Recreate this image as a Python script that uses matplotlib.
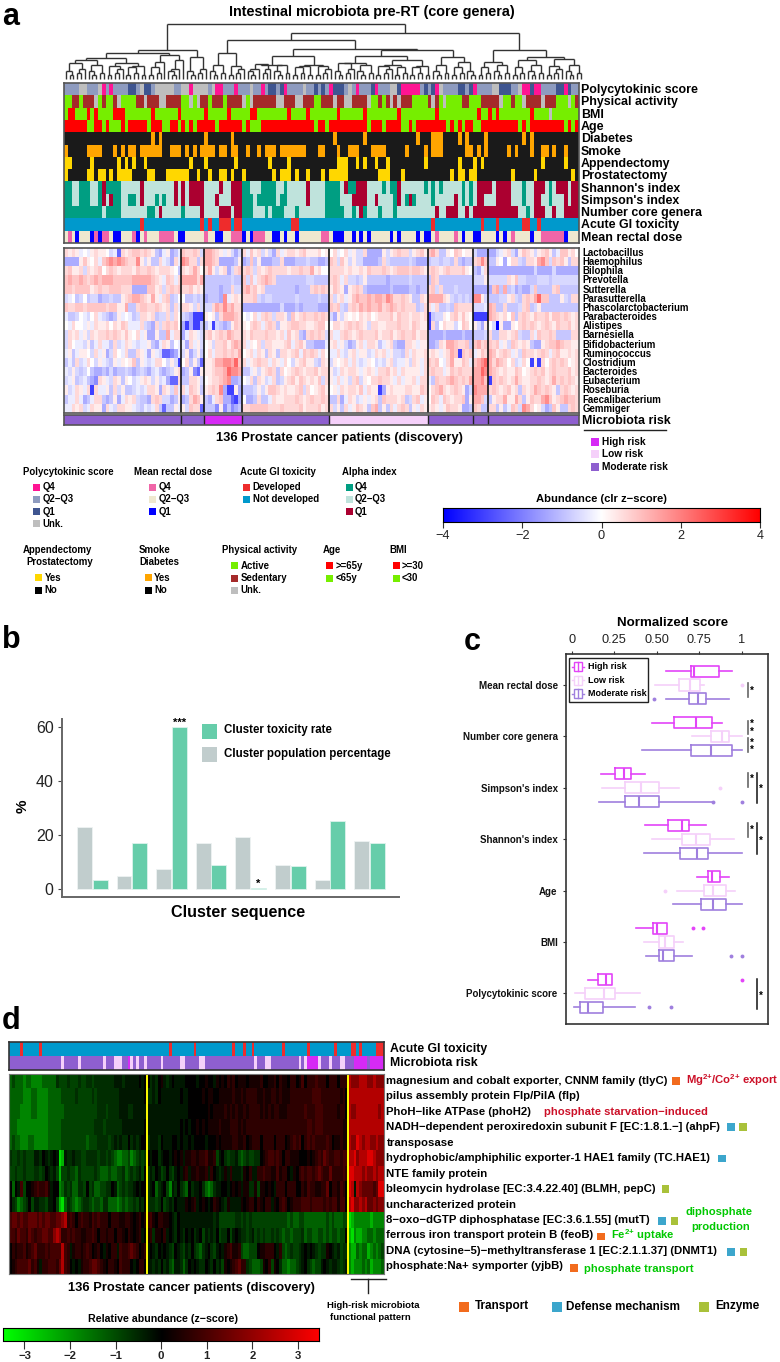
import numpy as np
import matplotlib
matplotlib.use("Agg")
import matplotlib.pyplot as plt
from matplotlib.colors import LinearSegmentedColormap, to_rgb
from matplotlib.collections import LineCollection
from matplotlib.patches import Rectangle

plt.rcParams['font.family'] = ['Liberation Sans', 'DejaVu Sans']
plt.rcParams['mathtext.fontset'] = 'custom'
plt.rcParams['mathtext.bf'] = 'Liberation Sans:bold'
plt.rcParams['mathtext.rm'] = 'Liberation Sans:bold'

W, H = 780, 1362

# ---- panel a, annotation rows (one character per patient)
annot_names = ["Polycytokinic score", "Physical activity", "BMI", "Age", "Diabetes", "Smoke",
               "Appendectomy", "Prostatectomy", "Shannon's index", "Simpson's index",
               "Number core genera", "Acute GI toxicity", "Mean rectal dose"]
poly = "mmmmuummmu pmpmmmmqqm uqqmuuuuum muupuuuumu ppmmmpmmmu mmpmqqmqpm mmmummqmqm pqqqmumpmm mqpmmmuuqp ppppmqmqpu mmmmqqmqpm mmmuuqqqmm uppqppmmmm qqpqmm"
activity = "ggbbgbbbug bggbuggggb bubbbuubbb bggugubbgb bbgbbbbugu bbbbbbuubb buubbbggbb bubbuubbbb uggbgbubub bbggggbubg uggggbbggg bbbbbuggbg gubbbbubbb gggugb"
bmi = "grrgggrgrg gggrrrgggg gggrgggggg rggggggrgg gggrgggggr rggggggggr ggggrggggg ggrggggggr ggggggggrg ggggggggrg gggggggggr ggrgrggggg gggrggggug gggggg"
age = "rrrrrrggrr grgggrgrrr rrgrrrggrr grgrgrrrrr grrrrrrgrg ggrrrrrrrr rrrrrrgrrg rrrrrrrrrr grrrgrrrrg grgrrrrrrr rgrgrgrrgg rrrrrrrrrr grgrrrrrrr rrgrgr"
diabetes_yes = [23, 25, 37, 44, 71, 79, 93, 97, 98, 99, 104, 106, 111, 121, 123]
smoke_yes = [0, 6, 7, 8, 9, 13, 15, 17, 18, 20, 21, 22, 23, 24, 25, 28, 29, 30, 32, 34, 36, 37, 38, 39, 41, 42, 44, 45,
             48, 51, 53, 54, 55, 57, 58, 59, 60, 61, 62, 63, 67, 68, 72, 75, 76, 77, 81, 82, 83, 84, 90, 95, 97, 98, 99,
             106, 107, 109, 111, 117, 119, 123, 126, 127, 129, 132]
append_yes = [0, 1, 7, 14, 16, 18, 21, 33, 37, 45, 54, 59, 72, 73, 74, 77, 79, 82, 85, 95, 104, 108, 110, 126, 132]
prost_yes = [0, 6, 7, 9, 10, 12, 14, 15, 16, 17, 22, 23, 27, 28, 29, 30, 31, 32, 35, 38, 41, 42, 44, 47, 55, 57, 58, 59, 61,
             64, 68, 70, 71, 72, 73, 74, 83, 84, 85, 89, 102, 104, 105, 107, 108, 118, 124, 134]
shannon = "aallaaalla daaaalllll dlllllllld ldlddddlll ldlldddaal llaaaallal lllldlllla aaaldaaddd llllalaadl lllllalala lllllalald dddlddddll lalldddlal dddldd"
simpson = "aallaaalla dldaallaal dlllalalld ldlddddlll dllldddaaa laaaaalaal lllldlllla aaallldddd lldlllladl adallllall llldlalald dlllddddll lallddllal lldldd"
ncore = "aaaaaaaaaa laaaalllll llaaldllll lalllldlll ldddlddaaa lllalaaall lallllllla aaaallalda lllalllall lllllllldl ldddlldldd dddddddddd llaldddlld lldddd"
toxic_yes = [20, 36, 38, 41, 42, 43, 45, 46, 60, 61, 97, 110, 114, 121, 122, 125]
dose = "eoeBeeeBoB ooeBBeeeoB eoeeeooooe BBeeeeeoee BBeeoooBeB oooeeBBeBe eBeeeeeeoo eBBBeeBeBe BeeeeeBeBe eeeBeBBeoe eeeoeBeeBB eeeeBeBeoe eeeBeeoooo ooBeee"

# ---- panel a, abundance (one character per patient, split by cluster)
genera = ["Lactobacillus", "Haemophilus", "Bilophila", "Prevotella", "Sutterella", "Parasutterella",
          "Phascolarctobacterium", "Parabacteroides", "Alistipes", "Barnesiella", "Bifidobacterium",
          "Ruminococcus", "Clostridium", "Bacteroides", "Eubacterium", "Roseburia", "Faecalibacterium", "Gemmiger"]
cluster_sizes = [31, 6, 10, 23, 26, 12, 4, 24]
cluster_risk = ["M", "M", "H", "M", "L", "M", "M", "M"]
abund = [
    "babaA.Aabaa.BAFbabccbcbaCDAaDCA cbbcbB ddcbaAaBDB bAcabBaBDbAabbabcaaab.a .bA.bAaBBbDDDDaBabcbbBabca cdbCCa.cb.aa BDDD DDBAabBDacbaBabcaCAccab",
    "DDDDaca.bAcdededcbbeaBaCCbABDbA edbbCb ddcbDDDDCa DCcCaDDDCCbDDDCCCBCCDDC cbBcaBaBBDDDDCbBCCCCCBCDDD CBBCBBCbCDCC bcec CCa.D.bbBCbbadecBcbcaCbb",
    "bcaabBbabc.bcbabbbacbbcbabbba.C babdb. bdaBabDBbc bcbBbabcbbbbabbcbbdab.. bbbbabaabacbbbcbabcccbccba bcbabcbbbca. CDAb DDDDDDDDDDDDBDDDDBDDDDDD",
    "cdccdcbcdcdddcccccdddddcbaAcbAb ddddbd CCCCCCCBCC cBcAbcdcbCCCCCCCCBBCCCC bcbAbBBCBaCCCCCDCCCCCBCCCC CcbCCCCCCCCC BBBa BBBBBbacBBCCCBBBCBBBBBBB",
    "ccbccccabcbbcccbbbDDDDccabBbcbc bbcaba CCCCDCCbBB cdbcabCCCCCCCCDCCCbcbcb acbaDabcbCDDDDDDCDDDDCCDCC bcBbCCCBCCCC DDDD DcdCdCBDCDDBcCCCCbcCCCCC",
    "BA.CB.CBBDCCBCCabcddcbadaAbcCB. .CCBCB DCCCDeAaba bbbcBCBBCCCCCCBCCCCCBCC bBabAacdccdcddcedbbcbaCCba ddddbaBCBCBC eeaB CCCBBabBCbcbdfccCCCaBCbb",
    "cbbccbcccccbccaadCCbccbbcbabCbA bbaBbB BBbdcecdbb DDDDDDDDDDBDDDCDCCCCDDD cbcBCbcbdcdccdbcdcbcbbbCBb bAbCCBCcbbbb BBBA dcCCbCCCBbcCBaCCCCCCCCCC",
    "ACCB.AB.bABCDCaA.ACBbbabCBBbBb. BCDGGG a.aCbdddcb .A.bAbcbBbbaCcabcbbcbcb BDaBa.a.bab.abbbcacbbabbab GCBBa.bcaca. GGGG dcbab.cCbcbacbbcaccbcbab",
    ".Ab..AaAbaab.bacbAAAbBCDbBbcbc. DGDGGC CAGBCDCacb a.bcbAbcbCaabccbbaabcc. .bbabcbcbaBbbaabbbcbbacbaa GbC.baaB.cb. aBDa .BHaDDa.bcbcbabcbacbbcab",
    "BbabAaBbabbcbcbaca.bAaDDaCCdAbb DAbaAB bcabcbdcbb bacbbbcbbabAcabCDbcbcbB bAAbcbabcbbbcabbcabcbbcabb DDDDCDDDDCDD CCCB bCCbbabcBCCbAcbbcbCCCCbb",
    "Bb.AABaCAbAACbBAbaABAAaCDAbaC.A ADbAaB .aBbbcacdc bAa.bBbbaaabcAbcaCCDDDA abAaBDCabAbbaCAabCDDbbaAaa DDCbaddcbbcC cdbc cbcAaBcbabaCDDabccdcbbaa",
    "AaCAaa.BbAaDBb.AbCCbaADaABFFEDAb BaDBaC .bAbbcbcbd .abAbaCbaCbbabcAcbcbAb AAbABabAaaBAbabAaBBCbAbaab abaAabdcGcbc Aacb dcabcbAaBcbbabcbAbcaabab",
    "CACbBAb.BaABCaAa.acCaABAbb.BaBG .bCaCF aabddeedfc bAabcbbAbaAb.BabcaaBCba Ba.abAbABAa.BABabBAAaBbaAb cbc.AbdaacbA cdef dbdcb.bBAb.GaGb.bcbcb.ab",
    "ABaBCB.CDDCDBDCCBCDCBCDBACDCBab DCaEFa aabccdfeed CCAaBabcbCb.abcbabbcabb aBAbabbaAabaAbbcabAbaaaaAb bcbbAacbcbbb ddfe dcbabaacb.abcbcabcbbbcab",
    "BAaCBACDEbaABbaCa.BAabaBaBADFFb CCbbaB .abbcdeDDC .AbCbaBAbCBabcacbabacBb aAbAaBbcBa.bbcbbaAbAaabAbb ACcbbcdcbcbd ddec Gcbcbabdbaabbcbabdbcbcba",
    "aBAbaAbGbAAaCbBaCCBABAbbaDbaBcA bAcbaC abcbeDGGaD CCCBaBaccbabaabcBb.abca .aAbabbacAbaaGDabaaabbaacb .bcdbabcbaDB eddd bcbabcabCbabdcbcbaCbcbab",
    "CAAbADCAbbCDCaDAbabBCCDbcbBBDCa DCbdca CDAbcDDFGD .DDCbCCAbaabbbcbabcbbcb CCbDAbaBAaAabCcbbbabCBbcAa .cbAcbabbcDa ddcB CabbdaadbCacbbdecabcdccb",
    "AAbabBAbaaDbABbbaaABCABAbCFCCaA aBcbbF CCCEaECEDC bbcccccbbbcbbbbcabbbcab bBaCbAacbaCcdCaCbAbcbCaAba abaAacbbaDDC cbCC bbCaCAcbBedb.aBDCcaCCbcb",
]

# ---- panel b
cluster_pop = [23.0, 4.7, 7.5, 17.0, 19.2, 9.0, 3.2, 17.8]
cluster_tox = [3.5, 17.0, 60.0, 9.0, 0.5, 8.5, 25.0, 17.0]

# ---- panel c, (low whisker, q1, median, q3, high whisker)
score_names = ["Mean rectal dose", "Number core genera", "Simpson's index", "Shannon's index", "Age", "BMI", "Polycytokinic score"]
box_high = [(.554, .70, .72, .864, .941), (.47, .603, .733, .823, .882), (.173, .251, .306, .348, .428),
            (.432, .568, .65, .688, .792), (.739, .804, .827, .872, .927), (.377, .475, .499, .558, .562),
            (.096, .155, .198, .234, .234)]
box_low = [(.489, .629, .694, .752, .78), (.705, .821, .882, .926, 1.0), (.179, .314, .409, .515, .633),
           (.47, .646, .731, .815, .955), (.619, .776, .833, .906, .963), (.424, .511, .548, .603, .656),
           (.018, .075, .191, .251, .403)]
box_mod = [(.554, .69, .743, .788, .927), (.413, .703, .821, .941, 1.0), (.161, .314, .395, .515, .833),
           (.424, .637, .735, .80, 1.0), (.595, .762, .833, .906, 1.0), (.434, .511, .538, .599, .709),
           (.014, .049, .092, .185, .371)]
out_high = [[], [], [], [], [], [.711, .77], [1.0]]
out_low = [[1.0], [], [.872], [], [.546], [], []]
out_mod = [[.485], [], [.833, 1.0], [], [], [.939, 1.0], [.456, .583]]

# ---- panel d
func_names = ["magnesium and cobalt exporter, CNNM family (tlyC)", "pilus assembly protein Flp/PilA (flp)",
              "PhoH\u2212like ATPase (phoH2)", "NADH\u2212dependent peroxiredoxin subunit F [EC:1.8.1.\u2212] (ahpF)",
              "transposase", "hydrophobic/amphiphilic exporter-1 HAE1 family (TC.HAE1)", "NTE family protein",
              "bleomycin hydrolase [EC:3.4.22.40] (BLMH, pepC)", "uncharacterized protein",
              "8\u2212oxo\u2212dGTP diphosphatase [EC:3.6.1.55] (mutT)", "ferrous iron transport protein B (feoB)",
              "DNA (cytosine\u22125)\u2212methyltransferase 1 [EC:2.1.1.37] (DNMT1)", "phosphate:Na+ symporter (yjbB)"]
d_sizes = [50, 73, 13]
func_abund = [
    "DCDDDEDDEEEEDDDDDBCCCBCCCBCCBBCBBBBBBBAAABAAAAA.A. .BAB.aABA.AAAA....A..a..Aa.a.bab.aaa.aaaab..aab.baa.bb.ac.bbbcbbb.bbb.bbb feeefffeefeee",
    "DDDDDEEEDDEEEEDDDDDCCCCCBCCCCCBCBBBBBBBBAAAAAAAAA. BBAB.AAAAAAA.AA.....a.aa..aaaaabaababbbbaabaabbabaaabbbbbbbbcccbbbbbbbab fffffffffffff",
    "DDDDEEEEDDEEEEDDDDDDCCCCCCCCCCCCBBBCBBBBAAABBAAAAA AAAAAAAAAAAAAAA.......a.aaaabababaababbbbabababbaaabbbbbbcbbbcccbbbbbabb feeffffffffef",
    "DDDEEEEEEEEEEEDDDDDCCCCCCCCCCCCBBBCBBBBBBAAAAAAAA. AAAAAAAAAAAA.A.A..a.a.aaaabaaabbbababbbbbbbbbbbbbbbbbbbbbbccbcccbbbbbbbaa fffffffffffff",
    "DCDDEEEDDEEEEEDDDDDCCCCCCCCCDCCCBBBBCBABABB.BABA.. BAAAB.AAA..A.AA.A....A...a.aaaabbaab.abbb.bbbb.bbb.abcbc.bcbcbbbbcb.aabaa feegfeffeefee",
    "BCCBCBCCCAAB.ABA.AGFABBABBCCBBBBCBBCBCDEEDDCEDCBCB .A..BA..A.a.aAaabbabbcaabCA.BCBBACDCBCCBB.abccbcb.bbaaa...a.abcbdcbbccbcc ffgefffggfeee",
    "CCBCCBCCCBBCB.ABACFCCBCCDBCCCCCBCDDDCDDCCBDCBCBAC. BAB.ACB.BCA.AabAaabaabAb.ABAaAbAAABa.bAAbbcbbaacabb.Aa.bcbccbcdcbbdbbbbcb ggfffefeefeff",
    ".D.AcC..abcbbcaA..EDBCBDDBBC.CBDDCCBB.ADCBCBBA.A.. BA.DBA.CEAB.BCD.BAA.BDEDBAA..A.a.aAaaBBaCaa.a.Abbb.bbb..bacbbaabbd.bbacb.a gfAfeddddcdgg",
    ".BCEDCB.CAABBCAA.CFGDBCDEDCBBCDCCDBBDDDEDCDCCBCAB. BBBCB.CBAB.AAAa.abA.a.A.ba.ABaAAAAa.abb.ba.bbAa.bcb.abbbcccbccccbcbccacc.b fgeefefddedee",
    "cddcdccdddcdcddccddefbcb.bcbbacbcbbb.bbbaabba.ab.a bca.bbaa.AB.AAAAAAAAAAAABACCCCCCBBCBCBCCCCCCCCCCCCCDCDDCCDDDDDDDDCDCDDDCC GFEEEEEEFEEEE",
    "ccbdccbdcbccddccefebbcbcbbaabbcb.bbabb.bba.ba.abA. abBaa.bA.AB.AB.A.BA.CABAB.CBB.CA.ABBCBACBCBCCBCBCDCCDCCCBDCCDDCCDCDCCDCC FGEFFEEDDEDDD",
    ".babbcabcdbbbcbccccfcbAabbabcb.ab.Aa.bbAcbbcdcb.ab A.AB.A.ABC.ABCAB.BCDBA.BCA.AabcaabCDDCCC.aabbb.AbCDCBCCBA.A.ABCBBa.ABACBB EFFDEDDFEDEDC",
    ".abccccdbcaAbbcccbdfcb.A.Aabbcddcba.bba.cbbb.A.bb. AABAB.BACDAABDB.A.ABB.AB.BACa.abcdbbBCDDDCa.bCa.BDDEDDCBA.BCDCCA.ABAABCBA EFEEEDEDFEEED",
]
d_toxic_yes = [4, 11, 58, 67, 81, 85, 88, 99, 108, 118, 124, 125, 127, 133, 134, 135]
d_risk_low = [19, 25, 34, 38, 39, 40, 44, 46, 49, 55, 62, 63, 69, 70, 89, 93, 94, 105, 107, 112, 116, 120, 121]
d_risk_high = [43, 108, 109, 110, 111, 125, 126, 127, 128, 129, 131, 132, 133, 134, 135]

# dendrogram, nodes are (height as picture row, left, right), 0 is a leaf
P = (75, 0, 0)
P2 = (73, 0, 0)
T = (71, 0, P)
T2 = (69, P2, 0)
U = (67, P, P2)
U2 = (69, T, 0)
V = (65, T, P2)
V2 = (66, P, T2)
S6 = (63, T, T2)
S6b = (66, U, P)
S7 = (64, U2, T2)
tree = (24,
        (50,
         (53,
          (58, (60, S6, V), (63, V2, S6b)),
          (55, (62, U, 0), (60, U2, 0))),
         (57, T, T2)),
        (33,
         (40,
          (53, V, V2),
          (49,
           (56, (65, S7, V), (65, S6b, V2)),
           (50,
            (56, (63, S6, V), (60, (65, V2, U), S6b)),
            (57, V, (62, U, T))))),
         (50,
          (62, U, V),
          (57, (60, U, V), (59, V2, V)))))


def pix_ax(x0, y0, x1, y1):
    return fig.add_axes([x0 / W, 1 - y1 / H, (x1 - x0) / W, (y1 - y0) / H])


def txt(x, y, s, size=8, ha='left', weight='bold', color='black', rot=0, **kw):
    ov.text(x, y, s, fontsize=size, ha=ha, va='center', fontweight=weight, color=color, rotation=rot, **kw)


def square(x0, y, side, color):
    ov.add_patch(Rectangle((x0, y - side / 2), side, side, facecolor=color, edgecolor='none'))


def frame(ax, color='#555555', lw=1.2):
    ax.set_xticks([])
    ax.set_yticks([])
    for s in ax.spines.values():
        s.set_color(color)
        s.set_linewidth(lw)


def flags(yes, n=136):
    return ["y" if i in yes else "n" for i in range(n)]


def clean(s):
    return s.replace(" ", "").ljust(136, s[-1])[:136]


def level_rows(rows, sizes):
    out = []
    for r in rows:
        segs = r.split()
        line = "".join(seg[:n].ljust(n, '.') for seg, n in zip(segs, sizes))
        out.append([levels[c] for c in line])
    return np.array(out, dtype=float)


levels = {'.': 0.0, 'A': -.3, 'B': -.6, 'C': -.9, 'D': -1.3, 'E': -1.8, 'F': -2.4, 'G': -3.0, 'H': -4.0,
          'a': .3, 'b': .6, 'c': .9, 'd': 1.3, 'e': 1.8, 'f': 2.4, 'g': 3.0, 'h': 4.0}

BLACK = '#1A1A1A'
ACT_G, RED = '#76EE00', '#FF0000'
Q4, Q23, Q1, UNK = '#FF1493', '#8E9BBF', '#3F5590', '#BEBEBE'
ORANGE, YELLOW = '#FFA500', '#FFD700'
TEAL, LTEAL, DRED = '#009E82', '#BFE3DC', '#AB0030'
TOX_R, TOX_B = '#EE2C2C', '#0099CC'
D4, D23, D1 = '#F066A8', '#EFE8CF', '#0000FF'
HIGH, LOW, MOD = '#D62AF5', '#F5D0FA', '#8E5FCF'

annot_cols = [
    ({'p': Q4, 'm': Q23, 'q': Q1, 'u': UNK}, clean(poly)),
    ({'g': ACT_G, 'b': '#A52A2A', 'u': UNK}, clean(activity)),
    ({'g': ACT_G, 'r': RED, 'u': UNK}, clean(bmi)),
    ({'g': ACT_G, 'r': RED}, clean(age)),
    ({'y': ORANGE, 'n': BLACK}, flags(diabetes_yes)),
    ({'y': ORANGE, 'n': BLACK}, flags(smoke_yes)),
    ({'y': YELLOW, 'n': BLACK}, flags(append_yes)),
    ({'y': YELLOW, 'n': BLACK}, flags(prost_yes)),
    ({'a': TEAL, 'l': LTEAL, 'd': DRED}, clean(shannon)),
    ({'a': TEAL, 'l': LTEAL, 'd': DRED}, clean(simpson)),
    ({'a': TEAL, 'l': LTEAL, 'd': DRED}, clean(ncore)),
    ({'y': TOX_R, 'n': TOX_B}, flags(toxic_yes)),
    ({'o': D4, 'e': D23, 'B': D1}, clean(dose)),
]

fig = plt.figure(figsize=(W / 100, H / 100), dpi=100, facecolor='w')

# ---- panel a
ax = pix_ax(64, 83, 579, 243)
img = np.array([[to_rgb(cmap[c]) for c in vals] for cmap, vals in annot_cols])
ax.imshow(img, aspect='auto', interpolation='nearest')
frame(ax)

bwr = LinearSegmentedColormap.from_list("bwr2", ['#0000FF', '#FFFFFF', '#FF0000'])
ax = pix_ax(64, 248, 579, 413)
ax.imshow(level_rows(abund, cluster_sizes), aspect='auto', cmap=bwr, vmin=-4, vmax=4, interpolation='nearest')
frame(ax)
for c in np.cumsum(cluster_sizes)[:-1]:
    ax.axvline(c - .5, color='#111111', lw=1.2)

risk_col = {"H": HIGH, "L": LOW, "M": MOD}
ax = pix_ax(64, 414.5, 579, 425)
ax.imshow([[to_rgb(risk_col[r]) for r, n in zip(cluster_risk, cluster_sizes) for _ in range(n)]],
          aspect='auto', interpolation='nearest')
frame(ax)
for c in np.cumsum(cluster_sizes)[:-1]:
    ax.axvline(c - .5, color='#222222', lw=1.0)

# ---- panel b
ax = pix_ax(62, 719, 399, 897)
xb = np.arange(len(cluster_pop))
bar_w = .375
ax.bar(xb - bar_w / 2 - .01, cluster_pop, bar_w, color='#C1CDCD', edgecolor='#EEF3F3', lw=.6)
ax.bar(xb + bar_w / 2 + .01, cluster_tox, bar_w, color='#66CDAA', edgecolor='#DDF3EC', lw=.6)
ax.set_xlim(-.765, 7.745)
ax.set_ylim(-2.96, 62.8)
ax.set_xticks([])
ax.set_yticks([0, 20, 40, 60])
ax.tick_params(axis='y', labelsize=11.5, length=3, color='#444444', pad=3, labelcolor='#222222')
for s in ['top', 'right']:
    ax.spines[s].set_visible(False)
for s in ['left', 'bottom']:
    ax.spines[s].set_color('#666666')
    ax.spines[s].set_linewidth(1.4)

# ---- panel c
ax = pix_ax(566, 654, 768, 1024)
ypos = np.arange(len(score_names))
for stats_in, out, off, col in [(box_high, out_high, -.27, '#E344F8'), (box_low, out_low, 0, LOW), (box_mod, out_mod, .27, '#9F7FDE')]:
    stats = [dict(whislo=s[0], q1=s[1], med=s[2], q3=s[3], whishi=s[4], fliers=f) for s, f in zip(stats_in, out)]
    line = dict(color=col, lw=1.2)
    ax.bxp(stats, positions=ypos + off, orientation='horizontal', widths=.215, showcaps=False,
           boxprops=line, whiskerprops=line, medianprops=dict(color=col, lw=1.5),
           flierprops=dict(marker='o', ms=2.8, mfc=col, mec=col, mew=0), manage_ticks=False)
ax.set_xlim(-.035, 1.155)
ax.set_ylim(6.595, -.603)
ax.xaxis.tick_top()
ax.set_xticks([0, .25, .5, .75, 1])
ax.set_xticklabels(["0", "0.25", "0.50", "0.75", "1"], fontsize=9.2, color='#222222')
ax.set_yticks(ypos)
ax.set_yticklabels(score_names, fontsize=7.0, fontweight='bold', color='#111111')
ax.tick_params(axis='both', length=2, color='#333333', pad=4)
for s in ax.spines.values():
    s.set_color('#333333')
    s.set_linewidth(1.2)

# ---- panel d
gr = LinearSegmentedColormap.from_list("gkr", ['#00FF00', '#000000', '#FF0000'])
ax = pix_ax(9, 1042, 384, 1070)
tox_line = [to_rgb(TOX_R if i in d_toxic_yes else TOX_B) for i in range(136)]
risk_line = [to_rgb(HIGH if i in d_risk_high else LOW if i in d_risk_low else MOD) for i in range(136)]
ax.imshow([tox_line, risk_line], aspect='auto', interpolation='nearest')
frame(ax, '#333333')

ax = pix_ax(9, 1073.5, 384, 1274)
ax.imshow(level_rows(func_abund, d_sizes), aspect='auto', cmap=gr, vmin=-3.45, vmax=3.45, interpolation='nearest')
frame(ax, '#777777', .8)
for c in np.cumsum(d_sizes)[:-1]:
    ax.axvline(c - .5, color='#FFFF00', lw=1.4)

# ---- colour bars
ax = pix_ax(443, 508, 760, 522)
ax.imshow(np.linspace(-4, 4, 256)[None, :], aspect='auto', cmap=bwr, extent=[-4, 4, 0, 1])
ax.set_yticks([])
ax.set_xticks([-4, -2, 0, 2, 4])
ax.set_xticklabels(["\u22124", "\u22122", "0", "2", "4"], fontsize=9.2, color='#222222')
ax.tick_params(axis='x', length=4, color='#333333', pad=2)

ax = pix_ax(3.5, 1328, 319, 1341)
ax.imshow(np.linspace(-3.46, 3.46, 256)[None, :], aspect='auto', cmap=gr, extent=[-3.46, 3.46, 0, 1])
ax.set_yticks([])
ax.set_xticks([-3, -2, -1, 0, 1, 2, 3])
ax.set_xticklabels(["\u22123", "\u22122", "\u22121", "0", "1", "2", "3"], fontsize=8.2, fontweight='bold', color='#222222')
ax.tick_params(axis='x', length=6, color='#333333', pad=1)

# ---- overlay in picture pixels, for texts and legends
ov = fig.add_axes([0, 0, 1, 1], zorder=10)
ov.set_xlim(0, W)
ov.set_ylim(H, 0)
ov.axis('off')
ov.patch.set_alpha(0)

# dendrogram
segs = []
leaf_w = (579 - 64) / 136
count = [0]


def walk(node):
    if node == 0:
        x = 64 + (count[0] + .5) * leaf_w
        count[0] += 1
        return x, 78.6
    y, left, right = node
    xl, yl = walk(left)
    xr, yr = walk(right)
    segs.extend([[(xl, yl), (xl, y)], [(xr, yr), (xr, y)], [(xl, y), (xr, y)]])
    return (xl + xr) / 2, y


walk(tree)
ov.add_collection(LineCollection(segs, colors='#333333', linewidths=1.0))

txt(2, 17, "a", 22)
txt(2, 640, "b", 22)
txt(464, 642, "c", 22)
txt(2, 1021, "d", 22)

txt(371.5, 12, "Intestinal microbiota pre-RT (core genera)", 10.4, ha='center')
for i, name in enumerate(annot_names):
    txt(581, 90.2 + i * 12.29, name, 8.95)
for i, name in enumerate(genera):
    txt(582.5, 253 + i * 9.16, name, 6.95)
txt(581.5, 421, "Microbiota risk", 8.95)
ov.plot([584, 666], [430, 430], color='#222222', lw=1)
for i, (lab, c) in enumerate([("High risk", HIGH), ("Low risk", LOW), ("Moderate risk", MOD)]):
    square(591, 442 + i * 12.3, 8, c)
    txt(602, 442 + i * 12.3, lab, 7.3)
txt(339.5, 438, "136 Prostate cancer patients (discovery)", 9.25, ha='center')

# legends of panel a
txt(23.3, 472, "Polycytokinic score", 6.9)
for i, (lab, c) in enumerate([("Q4", Q4), ("Q2\u2212Q3", Q23), ("Q1", Q1), ("Unk.", UNK)]):
    square(33, 487 + i * 12.3, 7, c)
    txt(42.3, 487 + i * 12.3, lab, 6.9)
txt(134, 472, "Mean rectal dose", 6.9)
for i, (lab, c) in enumerate([("Q4", D4), ("Q2\u2212Q3", D23), ("Q1", D1)]):
    square(149, 487 + i * 12.3, 7, c)
    txt(158.3, 487 + i * 12.3, lab, 6.9)
txt(240, 472, "Acute GI toxicity", 6.9)
for i, (lab, c) in enumerate([("Developed", TOX_R), ("Not developed", TOX_B)]):
    square(243, 487 + i * 12.3, 7, c)
    txt(252.6, 487 + i * 12.3, lab, 6.9)
txt(342, 472, "Alpha index", 6.9)
for i, (lab, c) in enumerate([("Q4", TEAL), ("Q2\u2212Q3", LTEAL), ("Q1", DRED)]):
    square(345.5, 487 + i * 12.3, 7, c)
    txt(355, 487 + i * 12.3, lab, 6.9)

txt(23, 549.8, "Appendectomy", 6.9)
txt(26, 562, "Prostatectomy", 6.9)
for i, (lab, c) in enumerate([("Yes", YELLOW), ("No", "#000000")]):
    square(35, 577.7 + i * 12.3, 7, c)
    txt(44.6, 577.7 + i * 12.3, lab, 6.9)
txt(139, 549.8, "Smoke", 6.9)
txt(139, 562, "Diabetes", 6.9)
for i, (lab, c) in enumerate([("Yes", ORANGE), ("No", "#000000")]):
    square(144.5, 577.7 + i * 12.3, 7, c)
    txt(154.2, 577.7 + i * 12.3, lab, 6.9)
txt(222, 549.8, "Physical activity", 6.9)
for i, (lab, c) in enumerate([("Active", ACT_G), ("Sedentary", '#A52A2A'), ("Unk.", UNK)]):
    square(231, 565.7 + i * 12.3, 7, c)
    txt(240.8, 565.7 + i * 12.3, lab, 6.9)
txt(323, 549.8, "Age", 6.9)
for i, (lab, c) in enumerate([(">=65y", RED), ("<65y", ACT_G)]):
    square(326, 565.7 + i * 12.3, 7, c)
    txt(335.8, 565.7 + i * 12.3, lab, 6.9)
txt(389, 549.8, "BMI", 6.9)
for i, (lab, c) in enumerate([(">=30", RED), ("<30", ACT_G)]):
    square(393, 565.7 + i * 12.3, 7, c)
    txt(402, 565.7 + i * 12.3, lab, 6.9)
txt(601.5, 499, "Abundance (clr z\u2212score)", 8.1, ha='center')

# texts of panel b
txt(23, 806, "%", 11, ha='center', rot=90)
txt(238, 912.5, "Cluster sequence", 11.6, ha='center')
txt(179.5, 723, "***", 8, ha='center')
txt(258.5, 883.5, "*", 8, ha='center')
square(202, 731, 15, '#66CDAA')
square(202, 754, 15, '#C1CDCD')
txt(224, 730, "Cluster toxicity rate", 8.3)
txt(224, 754, "Cluster population percentage", 8.3)

# texts of panel c
txt(673, 623.5, "Normalized score", 9.6, ha='center')
ov.add_patch(Rectangle((569, 658), 79, 44, facecolor='white', edgecolor='#222222', lw=1))
for i, (lab, c) in enumerate([("High risk", '#E344F8'), ("Low risk", LOW), ("Moderate risk", '#9F7FDE')]):
    yl = 666.5 + i * 13.6
    ov.plot([572, 584], [yl, yl], color=c, lw=1)
    ov.add_patch(Rectangle((574, yl - 4.5), 8, 9, facecolor='white', edgecolor=c, lw=1, zorder=3))
    ov.plot([578, 578], [yl - 4.5, yl + 4.5], color=c, lw=1, zorder=4)
    txt(588, yl, lab, 6.5)
for y0, y1 in [(683, 697), (721, 734), (738, 752), (772.7, 786.7), (823, 837)]:
    ov.plot([747.7, 747.7], [y0, y1], color='#666666', lw=1.2)
for y0, y1 in [(773, 802.7), (823, 854), (978.7, 1009)]:
    ov.plot([757, 757], [y0, y1], color='#111111', lw=1.1)
for x, y in [(752, 691), (752, 779), (761, 789), (752, 830), (761, 840.5), (761, 995.5)]:
    txt(x, y, "*", 7, ha='center')
for y in [728, 746.5]:
    txt(752, y, "*\n*", 7, ha='center', linespacing=.7)

# texts of panel d
txt(390, 1049, "Acute GI toxicity", 8.85)
txt(390, 1063.5, "Microbiota risk", 8.85)
for i, name in enumerate(func_names):
    txt(386.5, 1081 + i * 15.44, name, 8.2)
TRANS, DEF, ENZ = '#F26B1D', '#3CA6CC', '#A9C13A'
RTXT, GTXT = '#CC1028', '#00C800'
for x, y, c in [(672, 1081, TRANS), (727, 1127, DEF), (739, 1127, ENZ), (718, 1158.5, DEF), (661.5, 1189, ENZ),
                (658, 1221, DEF), (670.5, 1221, ENZ), (597, 1236.5, TRANS), (727, 1252, DEF), (739.5, 1252, ENZ),
                (570, 1268, TRANS)]:
    square(x, y, 7.5, c)
txt(686, 1080, "Mg$^{2{+}}$/Co$^{2{+}}$ export", 8.1, color=RTXT)
txt(544, 1112, "phosphate starvation\u2212induced", 8.1, color=RTXT)
txt(719, 1212, "diphosphate", 8.1, ha='center', color=GTXT)
txt(721, 1227, "production", 8.1, ha='center', color=GTXT)
txt(611, 1235.5, "Fe$^{2{+}}$ uptake", 8.1, color=GTXT)
txt(583.5, 1268.5, "phosphate transport", 8.1, color=GTXT)

txt(191.5, 1288, "136 Prostate cancer patients (discovery)", 9.3, ha='center')
ov.plot([351, 386], [1279, 1279], color='#222222', lw=1)
ov.plot([368, 368], [1279, 1293], color='#222222', lw=1)
txt(373, 1306, "High-risk microbiota", 6.8, ha='center')
txt(370, 1318, "functional pattern", 6.8, ha='center')
for x, lab, c, tx in [(459, "Transport", TRANS, 475), (552, "Defense mechanism", DEF, 566), (699, "Enzyme", ENZ, 715)]:
    square(x, 1307, 9.5, c)
    txt(tx, 1306.5, lab, 8.5)
txt(163, 1319, "Relative abundance (z\u2212score)", 7.7, ha='center')

fig.savefig("out.png", dpi=100)
